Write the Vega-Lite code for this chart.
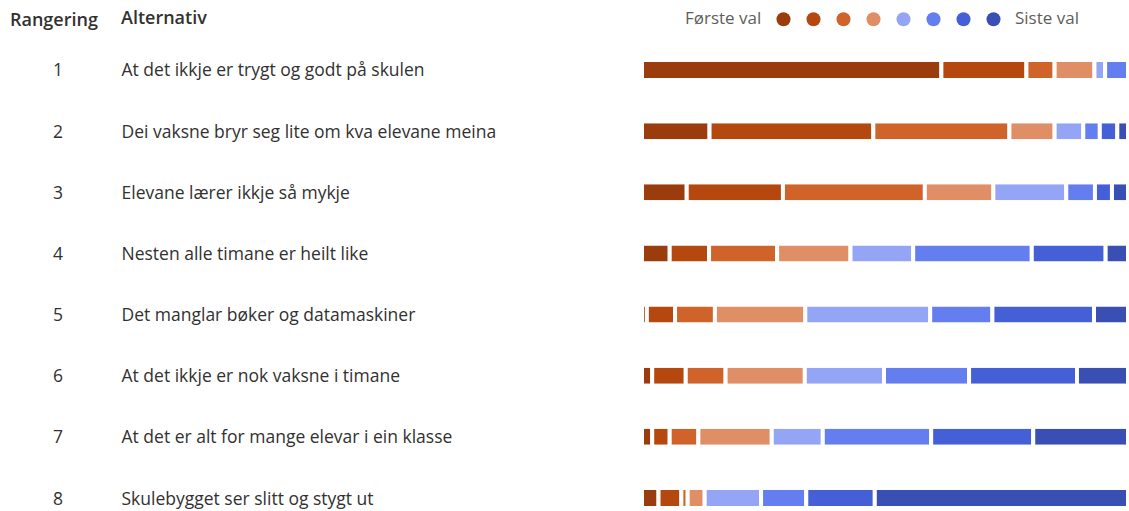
{
  "$schema": "https://vega.github.io/schema/vega-lite/v6.json",
  "padding": {"left": 10, "top": 10, "right": 0, "bottom": 0},
  "background": "white",
  "config": {
    "view": {"stroke": null},
    "font": "Open Sans",
    "title": {"fontSize": 18, "fontWeight": 600, "color": "#323130", "offset": 30, "anchor": "start"}
  },
  "spacing": 15,
  "datasets": {
    "rows": [
      {"Rangering": 1, "Alternativ": "At det ikkje er trygt og godt på skulen", "Val": 1, "Del": 61.6},
      {"Rangering": 1, "Alternativ": "At det ikkje er trygt og godt på skulen", "Val": 2, "Del": 17.5},
      {"Rangering": 1, "Alternativ": "At det ikkje er trygt og godt på skulen", "Val": 3, "Del": 5.8},
      {"Rangering": 1, "Alternativ": "At det ikkje er trygt og godt på skulen", "Val": 4, "Del": 8.2},
      {"Rangering": 1, "Alternativ": "At det ikkje er trygt og godt på skulen", "Val": 5, "Del": 2.2},
      {"Rangering": 1, "Alternativ": "At det ikkje er trygt og godt på skulen", "Val": 6, "Del": 4.7},
      {"Rangering": 2, "Alternativ": "Dei vaksne bryr seg lite om kva elevane meina", "Val": 1, "Del": 13.9},
      {"Rangering": 2, "Alternativ": "Dei vaksne bryr seg lite om kva elevane meina", "Val": 2, "Del": 33.7},
      {"Rangering": 2, "Alternativ": "Dei vaksne bryr seg lite om kva elevane meina", "Val": 3, "Del": 28.0},
      {"Rangering": 2, "Alternativ": "Dei vaksne bryr seg lite om kva elevane meina", "Val": 4, "Del": 9.3},
      {"Rangering": 2, "Alternativ": "Dei vaksne bryr seg lite om kva elevane meina", "Val": 5, "Del": 5.9},
      {"Rangering": 2, "Alternativ": "Dei vaksne bryr seg lite om kva elevane meina", "Val": 6, "Del": 3.4},
      {"Rangering": 2, "Alternativ": "Dei vaksne bryr seg lite om kva elevane meina", "Val": 7, "Del": 3.6},
      {"Rangering": 2, "Alternativ": "Dei vaksne bryr seg lite om kva elevane meina", "Val": 8, "Del": 2.2},
      {"Rangering": 3, "Alternativ": "Elevane lærer ikkje så mykje", "Val": 1, "Del": 9.2},
      {"Rangering": 3, "Alternativ": "Elevane lærer ikkje så mykje", "Val": 2, "Del": 19.8},
      {"Rangering": 3, "Alternativ": "Elevane lærer ikkje så mykje", "Val": 3, "Del": 29.2},
      {"Rangering": 3, "Alternativ": "Elevane lærer ikkje så mykje", "Val": 4, "Del": 14.1},
      {"Rangering": 3, "Alternativ": "Elevane lærer ikkje så mykje", "Val": 5, "Del": 15.0},
      {"Rangering": 3, "Alternativ": "Elevane lærer ikkje så mykje", "Val": 6, "Del": 5.9},
      {"Rangering": 3, "Alternativ": "Elevane lærer ikkje så mykje", "Val": 7, "Del": 3.5},
      {"Rangering": 3, "Alternativ": "Elevane lærer ikkje så mykje", "Val": 8, "Del": 3.3},
      {"Rangering": 4, "Alternativ": "Nesten alle timane er heilt like", "Val": 1, "Del": 5.7},
      {"Rangering": 4, "Alternativ": "Nesten alle timane er heilt like", "Val": 2, "Del": 8.1},
      {"Rangering": 4, "Alternativ": "Nesten alle timane er heilt like", "Val": 3, "Del": 14.0},
      {"Rangering": 4, "Alternativ": "Nesten alle timane er heilt like", "Val": 4, "Del": 15.1},
      {"Rangering": 4, "Alternativ": "Nesten alle timane er heilt like", "Val": 5, "Del": 12.9},
      {"Rangering": 4, "Alternativ": "Nesten alle timane er heilt like", "Val": 6, "Del": 24.4},
      {"Rangering": 4, "Alternativ": "Nesten alle timane er heilt like", "Val": 7, "Del": 15.2},
      {"Rangering": 4, "Alternativ": "Nesten alle timane er heilt like", "Val": 8, "Del": 4.6},
      {"Rangering": 5, "Alternativ": "Det manglar bøker og datamaskiner", "Val": 1, "Del": 1.0},
      {"Rangering": 5, "Alternativ": "Det manglar bøker og datamaskiner", "Val": 2, "Del": 5.8},
      {"Rangering": 5, "Alternativ": "Det manglar bøker og datamaskiner", "Val": 3, "Del": 8.2},
      {"Rangering": 5, "Alternativ": "Det manglar bøker og datamaskiner", "Val": 4, "Del": 18.6},
      {"Rangering": 5, "Alternativ": "Det manglar bøker og datamaskiner", "Val": 5, "Del": 25.7},
      {"Rangering": 5, "Alternativ": "Det manglar bøker og datamaskiner", "Val": 6, "Del": 12.8},
      {"Rangering": 5, "Alternativ": "Det manglar bøker og datamaskiner", "Val": 7, "Del": 20.9},
      {"Rangering": 5, "Alternativ": "Det manglar bøker og datamaskiner", "Val": 8, "Del": 7.0},
      {"Rangering": 6, "Alternativ": "At det ikkje er nok vaksne i timane", "Val": 1, "Del": 2.1},
      {"Rangering": 6, "Alternativ": "At det ikkje er nok vaksne i timane", "Val": 2, "Del": 6.9},
      {"Rangering": 6, "Alternativ": "At det ikkje er nok vaksne i timane", "Val": 3, "Del": 8.2},
      {"Rangering": 6, "Alternativ": "At det ikkje er nok vaksne i timane", "Val": 4, "Del": 16.3},
      {"Rangering": 6, "Alternativ": "At det ikkje er nok vaksne i timane", "Val": 5, "Del": 16.3},
      {"Rangering": 6, "Alternativ": "At det ikkje er nok vaksne i timane", "Val": 6, "Del": 17.5},
      {"Rangering": 6, "Alternativ": "At det ikkje er nok vaksne i timane", "Val": 7, "Del": 22.2},
      {"Rangering": 6, "Alternativ": "At det ikkje er nok vaksne i timane", "Val": 8, "Del": 10.5},
      {"Rangering": 7, "Alternativ": "At det er alt for mange elevar i ein klasse", "Val": 1, "Del": 2.1},
      {"Rangering": 7, "Alternativ": "At det er alt for mange elevar i ein klasse", "Val": 2, "Del": 3.6},
      {"Rangering": 7, "Alternativ": "At det er alt for mange elevar i ein klasse", "Val": 3, "Del": 5.9},
      {"Rangering": 7, "Alternativ": "At det er alt for mange elevar i ein klasse", "Val": 4, "Del": 15.1},
      {"Rangering": 7, "Alternativ": "At det er alt for mange elevar i ein klasse", "Val": 5, "Del": 10.5},
      {"Rangering": 7, "Alternativ": "At det er alt for mange elevar i ein klasse", "Val": 6, "Del": 22.3},
      {"Rangering": 7, "Alternativ": "At det er alt for mange elevar i ein klasse", "Val": 7, "Del": 21.0},
      {"Rangering": 7, "Alternativ": "At det er alt for mange elevar i ein klasse", "Val": 8, "Del": 19.5},
      {"Rangering": 8, "Alternativ": "Skulebygget ser slitt og stygt ut", "Val": 1, "Del": 3.4},
      {"Rangering": 8, "Alternativ": "Skulebygget ser slitt og stygt ut", "Val": 2, "Del": 4.7},
      {"Rangering": 8, "Alternativ": "Skulebygget ser slitt og stygt ut", "Val": 3, "Del": 1.3},
      {"Rangering": 8, "Alternativ": "Skulebygget ser slitt og stygt ut", "Val": 4, "Del": 3.5},
      {"Rangering": 8, "Alternativ": "Skulebygget ser slitt og stygt ut", "Val": 5, "Del": 11.6},
      {"Rangering": 8, "Alternativ": "Skulebygget ser slitt og stygt ut", "Val": 6, "Del": 9.3},
      {"Rangering": 8, "Alternativ": "Skulebygget ser slitt og stygt ut", "Val": 7, "Del": 14.1},
      {"Rangering": 8, "Alternativ": "Skulebygget ser slitt og stygt ut", "Val": 8, "Del": 52.1}
    ]
  },
  "hconcat": [
    {
      "width": 96,
      "height": 448,
      "title": {"text": "Rangering"},
      "data": {"name": "rows"},
      "transform": [{"filter": "datum.Val == 1"}],
      "mark": {"type": "text", "fontSize": 17.5, "color": "#323130", "font": "Open Sans", "dy": 1.5},
      "encoding": {
        "y": {"field": "Rangering", "type": "ordinal", "axis": null, "scale": {"type": "band", "paddingInner": 0.673, "paddingOuter": 0}},
        "text": {"field": "Rangering"}
      }
    },
    {
      "width": 486,
      "height": 448,
      "title": {"text": "Alternativ", "frame": "bounds"},
      "data": {"name": "rows"},
      "mark": {"type": "bar", "stroke": "white", "strokeWidth": 4, "cornerRadius": 2},
      "encoding": {
        "y": {
          "field": "Alternativ", "type": "nominal",
          "sort": {"field": "Rangering", "op": "min"},
          "scale": {"paddingInner": 0.673, "paddingOuter": 0},
          "axis": {"title": null, "domain": false, "ticks": false, "grid": false, "labelAlign": "left", "labelPadding": 521, "labelOffset": 1.5, "labelLimit": 510, "labelFontSize": 17.5, "labelColor": "#323130", "labelFont": "Open Sans"}
        },
        "x": {"field": "Del", "type": "quantitative", "stack": "zero", "scale": {"domain": [0, 100], "nice": false}, "axis": null},
        "color": {
          "field": "Val", "type": "ordinal",
          "scale": {"domain": [1, 2, 3, 4, 5, 6, 7, 8], "range": ["#9A3C0D", "#B5480F", "#D0632A", "#E08E65", "#93A5F4", "#647DEF", "#4560D6", "#3A4FB3"]},
          "legend": {
            "orient": "none", "legendX": 675, "legendY": -49.5, "direction": "horizontal",
            "title": "Første val", "titleOrient": "left", "titleFontSize": 17, "titleFontWeight": "normal", "titleColor": "#605E5C", "titlePadding": 13, "titleFont": "Open Sans", "titleBaseline": "middle",
            "symbolType": "circle", "symbolSize": 196, "symbolStrokeWidth": 0, "symbolOpacity": 1,
            "labelExpr": "datum.value == 8 ? 'Siste val' : ''", "labelOffset": 13, "labelFontSize": 17, "labelColor": "#605E5C", "labelFont": "Open Sans",
            "columnPadding": -1.1
          }
        },
        "order": {"field": "Val"}
      }
    }
  ]
}
